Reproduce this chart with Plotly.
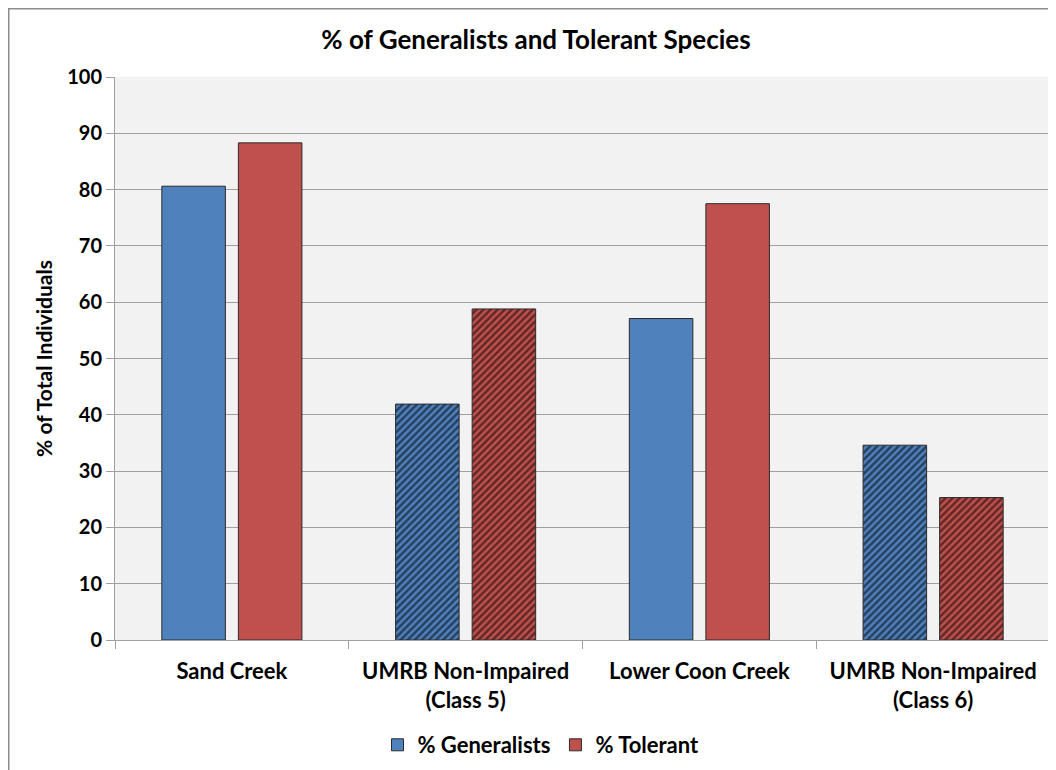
import plotly.graph_objects as go

categories = ["Sand Creek", "UMRB Non-Impaired<br>(Class 5)", "Lower Coon Creek", "UMRB Non-Impaired<br>(Class 6)"]
generalists = [80.6, 41.9, 57.1, 34.6]
tolerant = [88.3, 58.8, 77.5, 25.3]
hatch = ["", "/", "", "/"]

FONT = "Lato"
W, H = 1056, 770
# page has an 8px body margin, so figure coords = screen coords - 8
ML, MR, MT, MB = 107, 14, 69, 138

fig = go.Figure()
fig.add_trace(go.Bar(
    x=categories, y=generalists, name="% Generalists",
    marker=dict(color="#4f81bd", line=dict(color="#2b2b2b", width=1),
                pattern=dict(shape=hatch, fgcolor="black", size=5, solidity=0.5)),
))
fig.add_trace(go.Bar(
    x=categories, y=tolerant, name="% Tolerant",
    marker=dict(color="#c0504d", line=dict(color="#2b2b2b", width=1),
                pattern=dict(shape=hatch, fgcolor="black", size=5, solidity=0.5)),
))

pw = W - ML - MR
ph = H - MT - MB
fig.add_shape(type="rect", xref="paper", yref="paper",
              x0=(0.75 - ML) / pw, x1=1.2, y0=-0.5, y1=1 + (MT - 0.75) / ph,
              line=dict(color="#8c8c8c", width=1.5), layer="below")

fig.update_layout(
    width=W, height=H,
    margin=dict(l=ML, r=MR, t=MT, b=MB),
    paper_bgcolor="white", plot_bgcolor="#f2f2f2",
    barmode="group", bargap=0.345, bargroupgap=0.17,
    font=dict(family=FONT, color="black"),
    title=dict(text="<b>% of Generalists and Tolerant Species</b>", x=(536 - 8) / W, xanchor="center",
               xref="container",
               y=1 - 32 / H, yanchor="middle", font=dict(size=26, family=FONT)),
    showlegend=True,
    legend=dict(orientation="h", x=(541 - 8) / W, xanchor="center", xref="container",
                y=1 - 737 / H, yanchor="middle", yref="container",
                font=dict(size=22, family=FONT, weight="bold"), itemwidth=30,
                traceorder="normal"),
    xaxis=dict(tickfont=dict(size=22, family=FONT, weight="bold"), ticks="outside", tickson="boundaries",
               ticklen=8, tickcolor="#a0a0a0", showline=True, linecolor="#a0a0a0", linewidth=1,
               showgrid=False, ticklabelstandoff=12),
    yaxis=dict(range=[0, 100], dtick=10, tickfont=dict(size=20, family=FONT, weight="bold"),
               ticks="outside", ticklen=8, tickcolor="#a0a0a0", showline=True, linecolor="#a0a0a0",
               gridcolor="#a0a0a0", gridwidth=1, zeroline=False,
               title=dict(text="<b>% of Total Individuals</b>", font=dict(size=21, family=FONT, weight=900),
                          standoff=8)),
)

fig.write_html("out.html")
